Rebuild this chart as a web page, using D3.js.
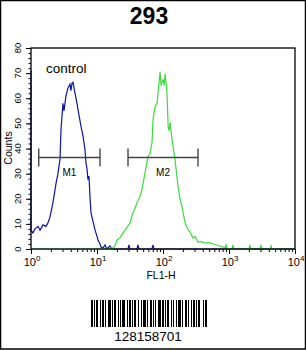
<!DOCTYPE html>
<html>
<head>
<meta charset="utf-8">
<script src="https://cdn.jsdelivr.net/npm/d3@7"></script>
<style>
  body { margin: 0; background: #fff; }
  svg { display: block; font-family: "Liberation Sans", Arial, sans-serif; }
</style>
</head>
<body>
<div id="vis"></div>
<script>
// FL1-H channel values (x) and counts (y)
const controlFL1 = [1.0, 1.0, 1.035, 1.07, 1.15, 1.28, 1.37, 1.52, 1.69, 1.81, 1.94, 2.15, 2.39, 2.56, 2.75, 2.85,
  3.05, 3.16, 3.39, 3.63, 3.9, 4.04, 4.18, 4.33, 4.64, 4.98, 5.15, 5.53, 5.72, 6.13, 6.57, 6.8, 7.05, 7.3,
  7.56, 7.83, 8.11, 8.7, 9.33, 10.0, 10.35, 11.1, 11.5, 12.3, 13.2, 14.1, 15.7, 16.8, 29.5, 30.5, 31.6,
  40.3, 41.8, 43.2, 68, 70.5, 73, 10000];
const controlCounts = [71, 7, 7, 6.4, 8, 9, 7.5, 9.6, 9, 10.4, 12.8, 18.4, 26, 30, 35.6, 47.6,
  58, 55, 61, 64, 65.6, 63, 66, 66.4, 62, 58, 55.6, 51, 48.8, 45, 39.6, 34.4, 32, 27.6,
  29, 20.8, 14.4, 11, 7.6, 5, 3.6, 2, 0.8, 0.4, 1.6, 0, 1.2, 0, 0, 1.6, 0,
  0, 1.6, 0, 0, 1.6, 0, 0];

const sampleFL1 = [1.0, 12.3, 15.7, 16.8, 17.4, 18.7, 20.1, 22.2, 24.8, 27.4, 31.6, 35.0, 37.6, 40.3, 44.7, 48.0,
  53.4, 59.3, 63.6, 68.2, 70.6, 75.8, 81.3, 84.2, 90.4, 93.6, 96.9, 100, 104, 107.8, 111.6, 115.5, 119.6,
  123.8, 128, 137, 152, 169, 181, 194, 216, 240, 256, 284, 305, 339, 363, 433, 518, 575, 658, 731, 811,
  870, 900, 933, 1110, 1150, 1190, 2000, 2070, 2150, 2950, 3050, 3160, 4180, 4330, 4480, 10000];
const sampleCounts = [0, 0, 0, 0.8, 0, 1.2, 3.6, 4.4, 6.4, 8, 10.4, 14.4, 16, 18.4, 20.8, 23.6,
  30.4, 36.8, 38, 42.4, 51.6, 56.8, 58, 62.4, 70.4, 65, 66.4, 67.6, 65, 69.6, 66, 60.8, 48.8,
  47, 50.4, 43.6, 35.6, 24.8, 20, 16.8, 10.4, 7.6, 6.8, 4.4, 5, 2.8, 3, 2.4, 2.4, 2, 1.6, 1.2, 0.8,
  0.4, 1.6, 0, 0, 1.6, 0, 0, 1.6, 0, 0, 1.6, 0, 0, 1.2, 0, 0];

// gates
const markerNames = ["M1", "M2"];
const markerStart = [1.31, 29.5];
const markerEnd = [11.1, 339];
const markerLevel = 36.4;

const yTicks = [0, 10, 20, 30, 40, 50, 60, 70, 80];
const xDecades = [1, 10, 100, 1000, 10000];

const title = "293";
const barcodeText = "128158701";
// bar / gap widths in px, alternating starting with a bar
const barcodeWidths = [2,1,1,1,2,2,1,1,2,1,1,2,3,1,1,1,2,2,1,1,1,1,3,2,1,1,2,1,1,1,2,2,1,2,1,1,3,1,1,2,
  2,1,1,1,1,2,3,1,2,1,1,1,2,2,1,1,1,2,1,1,3,1,1,2,2,1,1,2,1,1,2,1,1,1,2,3,1,1,2];

const W = 306, H = 350;
const margin = {top: 48, right: 11, bottom: 101, left: 31};
const width = W - margin.left - margin.right,
      height = H - margin.top - margin.bottom;

const svg = d3.select("#vis").append("svg")
  .attr("width", W).attr("height", H);

svg.append("rect")
  .attr("x", 0.5).attr("y", 0.5)
  .attr("width", W - 1).attr("height", H - 1.5)
  .attr("fill", "#fff").attr("stroke", "#000").attr("stroke-width", 1.5);

svg.append("text")
  .attr("x", 149).attr("y", 24)
  .attr("text-anchor", "middle")
  .attr("font-size", 23).attr("font-weight", "bold")
  .text(title);

const g = svg.append("g")
  .attr("transform", `translate(${margin.left},${margin.top})`);

const x = d3.scaleLog().domain([1, 10000]).range([0, width]);
const y = d3.scaleLinear().domain([0, 80]).range([height, 0]);

// y axis: major ticks every 10, minor every 2
g.append("g")
  .call(d3.axisLeft(y).tickValues(d3.range(0, 81, 2)).tickSize(2.5).tickFormat(""))
  .call(s => s.select(".domain").remove());
g.append("g")
  .call(d3.axisLeft(y).tickValues(yTicks).tickSize(5).tickFormat(""))
  .call(s => s.select(".domain").remove());
g.selectAll(".tick line").attr("stroke", "#000");

g.selectAll(".ylab")
  .data(yTicks)
  .join("text")
  .attr("class", "ylab")
  .attr("transform", d => `translate(-10.5,${y(d)}) rotate(-90)`)
  .attr("text-anchor", "middle")
  .attr("font-size", 9.5)
  .text(d => d);

svg.append("text")
  .attr("transform", `translate(12,148) rotate(-90)`)
  .attr("text-anchor", "middle")
  .attr("font-size", 10.5)
  .text("Counts");

// x axis: log ticks
const minor = [];
xDecades.slice(0, -1).forEach(d => { for (let k = 2; k < 10; k++) minor.push(d * k); });
g.append("g")
  .attr("transform", `translate(0,${height})`)
  .call(d3.axisBottom(x).tickValues(minor).tickSize(3).tickFormat(""))
  .call(s => s.select(".domain").remove());
g.append("g")
  .attr("transform", `translate(0,${height})`)
  .call(d3.axisBottom(x).tickValues(xDecades).tickSize(5).tickFormat(""))
  .call(s => s.select(".domain").remove());
g.selectAll(".tick line").attr("stroke", "#000");

const xl = g.selectAll(".xlab")
  .data(xDecades)
  .join("text")
  .attr("class", "xlab")
  .attr("x", d => x(d) + 1)
  .attr("y", height + 17)
  .attr("text-anchor", "middle")
  .attr("font-size", 11);
xl.append("tspan").text("10");
xl.append("tspan").attr("dy", -5).attr("font-size", 8).text(d => Math.round(Math.log10(d)));

svg.append("text")
  .attr("x", 161).attr("y", 279)
  .attr("text-anchor", "middle")
  .attr("font-size", 10.5)
  .text("FL1-H");

// histograms
const line = d3.line()
  .x(d => x(d[0]))
  .y(d => y(d[1]));

g.append("path")
  .datum(d3.zip(controlFL1, controlCounts))
  .attr("fill", "none")
  .attr("stroke", "#0c14a8")
  .attr("stroke-width", 1.2)
  .attr("d", line);

g.append("path")
  .datum(d3.zip(sampleFL1, sampleCounts))
  .attr("fill", "none")
  .attr("stroke", "#3ddc3d")
  .attr("stroke-width", 1.2)
  .attr("d", line);

// gate markers
const gates = g.selectAll(".gate")
  .data(markerNames.map((n, i) => ({name: n, a: markerStart[i], b: markerEnd[i]})))
  .join("g")
  .attr("class", "gate");
gates.append("line")
  .attr("x1", d => x(d.a)).attr("x2", d => x(d.b))
  .attr("y1", y(markerLevel)).attr("y2", y(markerLevel));
gates.append("line")
  .attr("x1", d => x(d.a)).attr("x2", d => x(d.a))
  .attr("y1", y(markerLevel) - 9).attr("y2", y(markerLevel) + 9);
gates.append("line")
  .attr("x1", d => x(d.b)).attr("x2", d => x(d.b))
  .attr("y1", y(markerLevel) - 9).attr("y2", y(markerLevel) + 9);
gates.selectAll("line").attr("stroke", "#444").attr("stroke-width", 1.4);
gates.append("text")
  .attr("x", d => (x(d.a) + x(d.b)) / 2)
  .attr("y", y(markerLevel) + 18)
  .attr("text-anchor", "middle")
  .attr("font-size", 10)
  .text(d => d.name);

g.append("text")
  .attr("x", 15).attr("y", 25)
  .attr("font-size", 13.5)
  .text("control");

// frame
g.append("rect")
  .attr("width", width).attr("height", height)
  .attr("fill", "none").attr("stroke", "#000").attr("stroke-width", 1.3);

// barcode
let bx = 91;
barcodeWidths.forEach((w, i) => {
  if (i % 2 === 0) {
    svg.append("rect").attr("x", bx).attr("y", 300).attr("width", w).attr("height", 27).attr("fill", "#000");
  }
  bx += w;
});
svg.append("text")
  .attr("x", 148).attr("y", 341)
  .attr("text-anchor", "middle")
  .attr("font-size", 13.5)
  .text(barcodeText);
</script>
</body>
</html>
